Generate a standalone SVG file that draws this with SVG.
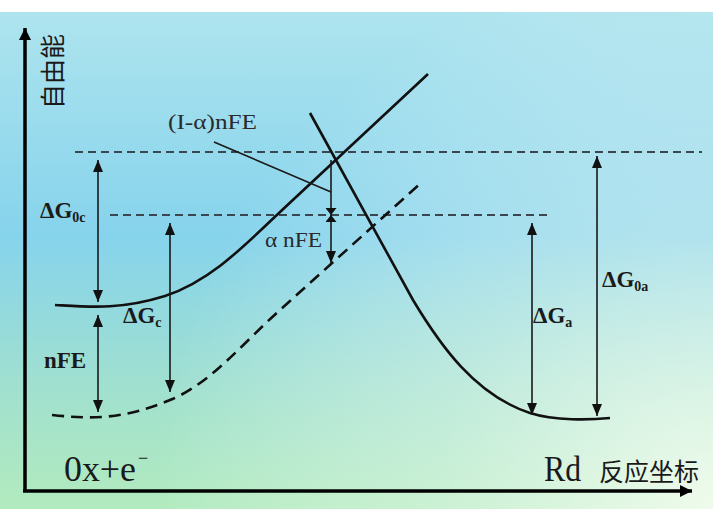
<svg xmlns="http://www.w3.org/2000/svg" width="722" height="509" viewBox="0 0 722 509">
  <defs>
    <linearGradient id="bgv" x1="0" y1="0" x2="0" y2="1">
      <stop offset="0" stop-color="#aee4ee"/>
      <stop offset="0.45" stop-color="#86d3ec"/>
      <stop offset="0.75" stop-color="#a0e0d0"/>
      <stop offset="1" stop-color="#b2ebbe"/>
    </linearGradient>
    <radialGradient id="bgr" cx="713" cy="509" r="560" gradientUnits="userSpaceOnUse">
      <stop offset="0" stop-color="#f6fdf0" stop-opacity="0.9"/>
      <stop offset="0.5" stop-color="#eefaf0" stop-opacity="0.4"/>
      <stop offset="1" stop-color="#ffffff" stop-opacity="0"/>
    </radialGradient>
    <marker id="ah" viewBox="0 0 12 10" refX="12" refY="5" markerWidth="12" markerHeight="10" markerUnits="userSpaceOnUse" orient="auto-start-reverse">
      <path d="M0,0 L12,5 L0,10 z" fill="#111"/>
    </marker>
    <marker id="ahs" viewBox="0 0 7 11" refX="7" refY="5.5" markerWidth="7" markerHeight="11" markerUnits="userSpaceOnUse" orient="auto-start-reverse">
      <path d="M0,0 L7,5.5 L0,11 z" fill="#111"/>
    </marker>
    <marker id="axh" viewBox="0 0 12 12" refX="12" refY="6" markerWidth="12" markerHeight="12" markerUnits="userSpaceOnUse" orient="auto">
      <path d="M0,0 L12,6 L0,12 z" fill="#000"/>
    </marker>
  </defs>
  <style>
    .curve { fill: none; stroke: #111; stroke-width: 2.6; }
    .dcurve { fill: none; stroke: #111; stroke-width: 2.6; stroke-dasharray: 12 7; }
    .level { fill: none; stroke: #3a4650; stroke-width: 1.8; stroke-dasharray: 8 5; }
    .dim { stroke: #1a1a1a; stroke-width: 1.6; fill: none; }
    .axis { stroke: #000; stroke-width: 3.5; fill: none; }
    .lbl { font-family: "Liberation Serif", "DejaVu Serif", serif; font-weight: bold; font-size: 23px; fill: #1a1a1a; }
    .sub { font-size: 14px; }
    .thin { font-family: "Liberation Serif", "DejaVu Serif", serif; font-size: 22px; fill: #2a2a2a; }
    .big { font-family: "Liberation Serif", "DejaVu Serif", serif; font-size: 36px; fill: #1a1a1a; }
    .cjk { font-family: "Noto Sans CJK SC", "Noto Sans", sans-serif; font-size: 25px; fill: #1a1a1a; }
  </style>

  <rect x="0" y="0" width="722" height="509" fill="#ffffff"/>
  <rect x="0" y="12" width="713" height="497" fill="url(#bgv)"/>
  <rect x="0" y="12" width="713" height="497" fill="url(#bgr)"/>

  <g id="axes">
    <line class="axis" x1="25" y1="491" x2="25" y2="28" marker-end="url(#axh)"/>
    <line class="axis" x1="23" y1="491" x2="692" y2="491" marker-end="url(#axh)"/>
    <text class="cjk" transform="translate(62,109) rotate(-90)">自由能</text>
    <text class="cjk" x="599" y="481">反应坐标</text>
  </g>

  <g id="levels">
    <line class="level" x1="75" y1="152" x2="702" y2="152"/>
    <line class="level" x1="110" y1="215" x2="552" y2="215"/>
  </g>

  <g id="curves">
    <path id="cathodic" class="curve" d="M55,305 C90,307 120,310 165,296 C210,281 242,248 280,212 L428,74"/>
    <path id="cathodic-shifted" class="dcurve" d="M52,415 C90,419 122,420 170,400 C210,384 242,344 280,310 L422,182"/>
    <path id="anodic" class="curve" d="M310,113 L413,300 C440,345 475,395 530,413 C555,421 590,420 610,418"/>
  </g>

  <g id="connectors">
    <line class="dim" x1="98" y1="160" x2="98" y2="302" marker-start="url(#ah)" marker-end="url(#ah)"/>
    <line class="dim" x1="98" y1="315" x2="98" y2="412" marker-start="url(#ah)" marker-end="url(#ah)"/>
    <line class="dim" x1="170" y1="223" x2="170" y2="392" marker-start="url(#ah)" marker-end="url(#ah)"/>
    <line class="dim" x1="532" y1="223" x2="532" y2="415" marker-start="url(#ah)" marker-end="url(#ah)"/>
    <line class="dim" x1="597" y1="156" x2="597" y2="416" marker-start="url(#ah)" marker-end="url(#ah)"/>
    <line class="dim" x1="331" y1="160" x2="331" y2="215" marker-end="url(#ahs)"/>
    <line class="dim" x1="331" y1="215" x2="331" y2="263" marker-start="url(#ahs)" marker-end="url(#ah)"/>
    <line class="dim" x1="214" y1="142" x2="331" y2="192"/>
  </g>

  <g id="labels">
    <text id="lbl-dg0c" class="lbl" x="40" y="218">ΔG<tspan class="sub" dy="4">0c</tspan></text>
    <text id="lbl-dgc" class="lbl" x="123" y="323">ΔG<tspan class="sub" dy="4">c</tspan></text>
    <text id="lbl-nfe" class="lbl" x="44" y="368">nFE</text>
    <text id="lbl-dga" class="lbl" x="533" y="323">ΔG<tspan class="sub" dy="4">a</tspan></text>
    <text id="lbl-dg0a" class="lbl" x="602" y="287">ΔG<tspan class="sub" dy="4">0a</tspan></text>
    <text id="lbl-1anfe" class="thin" x="168" y="129" textLength="89" lengthAdjust="spacingAndGlyphs">(I-α)nFE</text>
    <text id="lbl-anfe" class="thin" x="265" y="247" textLength="57" lengthAdjust="spacingAndGlyphs">α nFE</text>
    <text id="lbl-ox" class="big" x="64" y="481"><tspan textLength="72" lengthAdjust="spacingAndGlyphs">0x+e</tspan><tspan font-size="18" dx="2" dy="-17">−</tspan></text>
    <text id="lbl-rd" class="big" x="544" y="481" textLength="37" lengthAdjust="spacingAndGlyphs">Rd</text>
  </g>
</svg>
